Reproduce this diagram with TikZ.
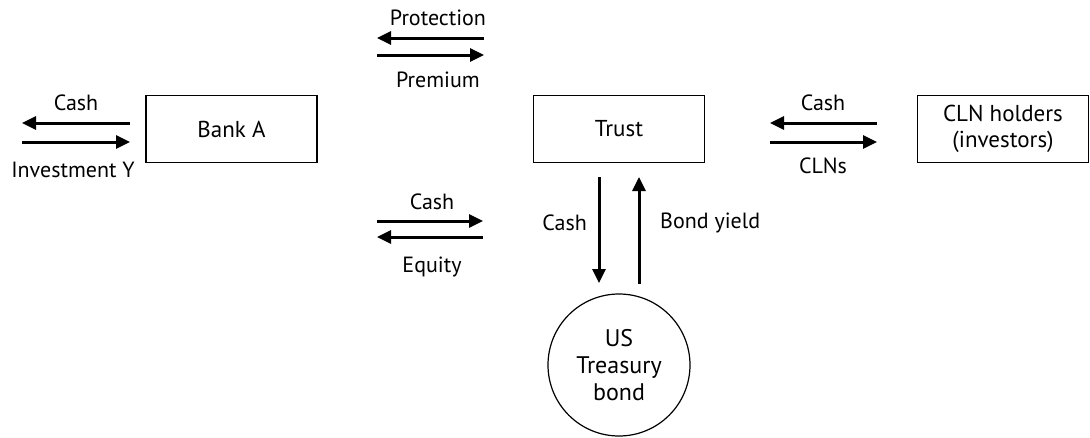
\documentclass[tikz,border=0pt]{standalone}
\usepackage{fontspec}
\setmainfont{PT Sans}
\usetikzlibrary{arrows.meta}
\tikzset{
  party/.style={draw,line width=1.2pt,minimum width=171pt,minimum height=67pt,align=center,font=\fontsize{23}{26}\selectfont},
  flow/.style={line width=3pt,-{Triangle[length=14pt,width=13pt]}},
  lbl/.style={font=\fontsize{22}{25}\selectfont,inner sep=0pt}
}
\begin{document}
\begin{tikzpicture}[x=1pt,y=-1pt]
\useasboundingbox (0,0) rectangle (1090,437);
\node[party] (bank) at (231.5,129) {Bank A};
\node[party] (trust) at (619,129) {Trust};
\node[party] (cln) at (1003,129) {CLN holders\\(investors)};
\node[draw,circle,line width=1.2pt,minimum size=142pt,align=center,font=\fontsize{24}{27}\selectfont] (bond) at (619,365) {US\\Treasury\\bond};
% investment flows left of Bank A
\coordinate (invR1) at (130,123); \coordinate (invL1) at (22,123);
\coordinate (invL2) at (22,142); \coordinate (invR2) at (130,142);
\draw[flow] (invR1) -- (invL1);
\draw[flow] (invL2) -- (invR2);
\node[lbl] (invcash) at (76,103) {Cash};
\node[lbl] (invy) at (73,170) {Investment Y};
% protection and premium
\coordinate (protR) at (484,38); \coordinate (protL) at (377,38);
\coordinate (premL) at (377,55); \coordinate (premR) at (484,55);
\draw[flow] (protR) -- (protL);
\draw[flow] (premL) -- (premR);
\node[lbl] (prot) at (438,18) {Protection};
\node[lbl] (prem) at (438,80) {Premium};
% cash and equity
\coordinate (eqcL) at (377,221); \coordinate (eqcR) at (483,221);
\coordinate (eqR) at (483,237); \coordinate (eqL) at (377,237);
\draw[flow] (eqcL) -- (eqcR);
\draw[flow] (eqR) -- (eqL);
\node[lbl] (eqcash) at (432,202) {Cash};
\node[lbl] (equity) at (432,267) {Equity};
% notes
\coordinate (clncR) at (877,123); \coordinate (clncL) at (770,123);
\coordinate (clnL) at (770,142); \coordinate (clnR) at (877,142);
\draw[flow] (clncR) -- (clncL);
\draw[flow] (clnL) -- (clnR);
\node[lbl] (clncash) at (823,103) {Cash};
\node[lbl] (clns) at (823,166) {CLNs};
% treasury
\coordinate (tdT) at (599,177); \coordinate (tdB) at (599,283);
\coordinate (tuB) at (639,284); \coordinate (tuT) at (639,177);
\draw[flow] (tdT) -- (tdB);
\draw[flow] (tuB) -- (tuT);
\node[lbl,anchor=east] (tcash) at (587,223) {Cash};
\node[lbl,anchor=west] (tyield) at (660,223) {Bond yield};
\end{tikzpicture}
\end{document}
